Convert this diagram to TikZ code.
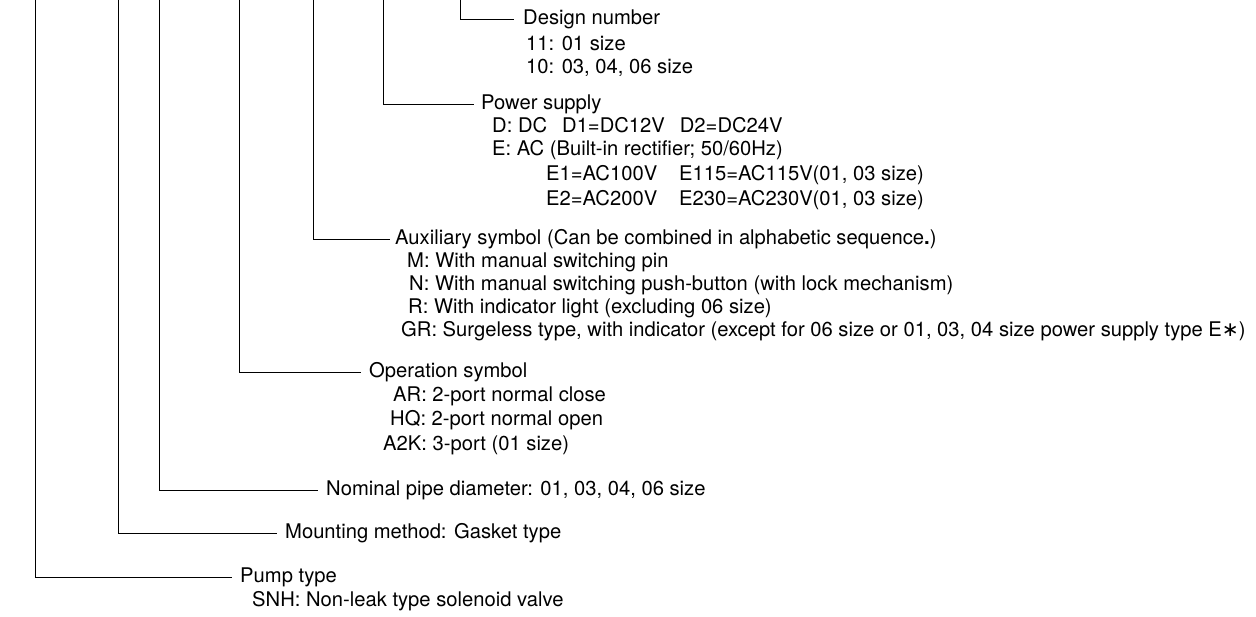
\documentclass[tikz,border=0pt]{standalone}
\usepackage{fontspec}
\setmainfont{TeX Gyre Heros}
\newfontfamily\symfont{DejaVu Sans}
\newcommand{\gap}{\hspace{15pt}}
\newcommand{\wgap}{\hspace{22pt}}

\begin{document}
\begin{tikzpicture}[x=1pt,y=-1pt,
  lbl/.style={anchor=west,inner sep=0pt,font=\fontsize{20.2}{24}\selectfont,text height=14pt,text depth=4pt},
  lead/.style={line width=1pt}]
\path[use as bounding box] (0,0) rectangle (1256,616);
\coordinate (pumptop) at (35,0);
\coordinate (mounttop) at (118,0);
\coordinate (nomtop) at (159,0);
\coordinate (optop) at (239,0);
\coordinate (auxtop) at (313,0);
\coordinate (powtop) at (383,0);
\coordinate (destop) at (460,0);
\node[lbl] (design) at (523,19.5) {Design number};
\node[lbl] (des11) at (526,45) {11: 01 size};
\node[lbl] (des10) at (526,68) {10: 03, 04, 06 size};
\node[lbl] (power) at (481,104) {Power supply};
\node[lbl] (powD) at (492,127) {D: DC\gap D1=DC12V\gap D2=DC24V};
\node[lbl] (powE) at (492,150) {E: AC (Built-in rectifier; 50/60Hz)};
\node[lbl] (powE1) at (546,175) {E1=AC100V\wgap E115=AC115V(01, 03 size)};
\node[lbl] (powE2) at (546,200) {E2=AC200V\wgap E230=AC230V(01, 03 size)};
\node[lbl] (aux) at (395,239) {Auxiliary symbol (Can be combined in alphabetic sequence\textbf{.})};
\node[lbl] (auxM) at (407,262) {M: With manual switching pin};
\node[lbl] (auxN) at (409,285) {N: With manual switching push-button (with lock mechanism)};
\node[lbl] (auxR) at (408,308) {R: With indicator light (excluding 06 size)};
\node[lbl] (auxGR) at (401,331) {GR: Surgeless type, with indicator (except for 06 size or 01, 03, 04 size power supply type E{\symfont ∗})};
\node[lbl] (op) at (369,372) {Operation symbol};
\node[lbl] (opAR) at (393,396) {AR: 2-port normal close};
\node[lbl] (opHQ) at (390,420) {HQ: 2-port normal open};
\node[lbl] (opA2K) at (383,445) {A2K: 3-port (01 size)};
\node[lbl] (nom) at (326,490) {Nominal pipe diameter: 01, 03, 04, 06 size};
\node[lbl] (mount) at (285,533) {Mounting method: Gasket type};
\node[lbl] (pump) at (240,577) {Pump type};
\node[lbl] (pumpSNH) at (252,601) {SNH: Non-leak type solenoid valve};
\draw[lead] (destop) |- ([xshift=-9pt]design.west);
\draw[lead] (powtop) |- ([xshift=-7pt]power.west);
\draw[lead] (auxtop) |- ([xshift=-5pt]aux.west);
\draw[lead] (optop) |- ([xshift=-8pt]op.west);
\draw[lead] (nomtop) |- ([xshift=-8pt]nom.west);
\draw[lead] (mounttop) |- ([xshift=-8pt]mount.west);
\draw[lead] (pumptop) |- ([xshift=-8pt]pump.west);
\end{tikzpicture}
\end{document}
